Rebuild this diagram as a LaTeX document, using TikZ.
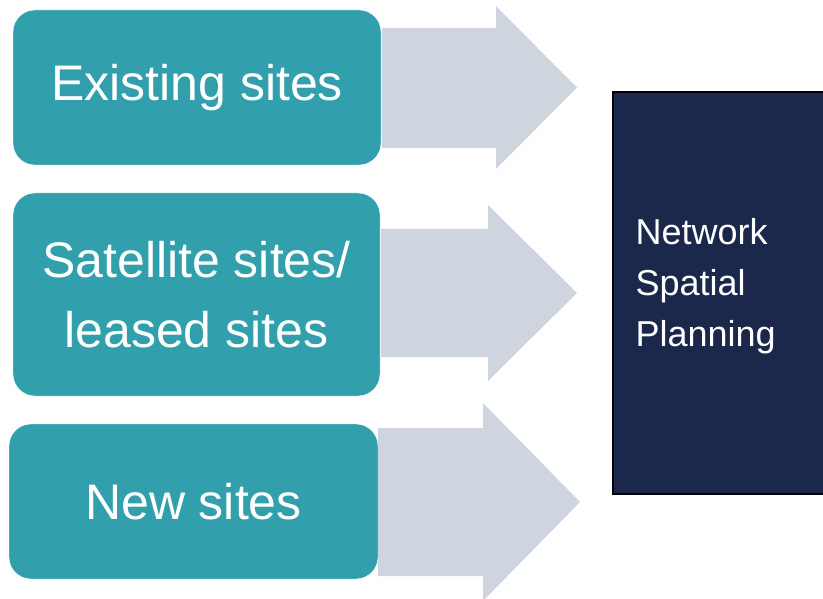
\documentclass[tikz,border=0pt]{standalone}
\usepackage{fontspec}
\setmainfont{Liberation Sans}
\usetikzlibrary{positioning}

\definecolor{siteteal}{HTML}{31A0AC}
\definecolor{flowgrey}{HTML}{CFD5DF}
\definecolor{plannavy}{HTML}{1B284B}

\begin{document}
\begin{tikzpicture} [x=1pt,y=-1pt,
			site/.style={rectangle,rounded corners=22pt,fill=siteteal,draw=white,
				thin,text=white,align=center,font=\fontsize{50}{70}\selectfont},
			plan/.style={rectangle,fill=plannavy,draw=black,line width=1.2pt},
			plan text/.style={text=white,align=left,text width=171pt,inner sep=0pt,
				font=\fontsize{36}{51}\selectfont},
			flow/.style={fill=flowgrey}]

		\useasboundingbox (0,0) rectangle (823,599);

		% block arrows behind the site boxes
		% {shaft start, shaft top, shaft bottom, head start, head top, head bottom, tip x}
		\foreach \xs/\st/\sb/\xh/\ht/\hb/\xt in {
				382/28/148/496/6/169/577,
				381/229/357/488/205/381/577,
				378/428/576/483/403/601/580}
			\fill [flow] (\xs,\st) -- (\xh,\st) -- (\xh,\ht) -- (\xt,{(\ht+\hb)/2})
				-- (\xh,\hb) -- (\xh,\sb) -- (\xs,\sb) -- cycle;

		\node [site, minimum width=368pt, minimum height=155pt] (existing) at (197,87.5) {Existing sites};
		\node [site, minimum width=367pt, minimum height=203pt] (satellite) at (196.5,294.5) {Satellite sites/\\leased sites};
		\node [site, minimum width=369pt, minimum height=155pt] (new) at (193.5,501.5) {New sites};

		% runs on past the right margin
		\node [plan, minimum width=224pt, minimum height=402pt] (planning) at (725,293) {};
		\node [plan text, anchor=west, yshift=7pt] (planlabel) at ([xshift=23pt]planning.west) {Network\\Spatial\\Planning};

		\end{tikzpicture}
\end{document}
